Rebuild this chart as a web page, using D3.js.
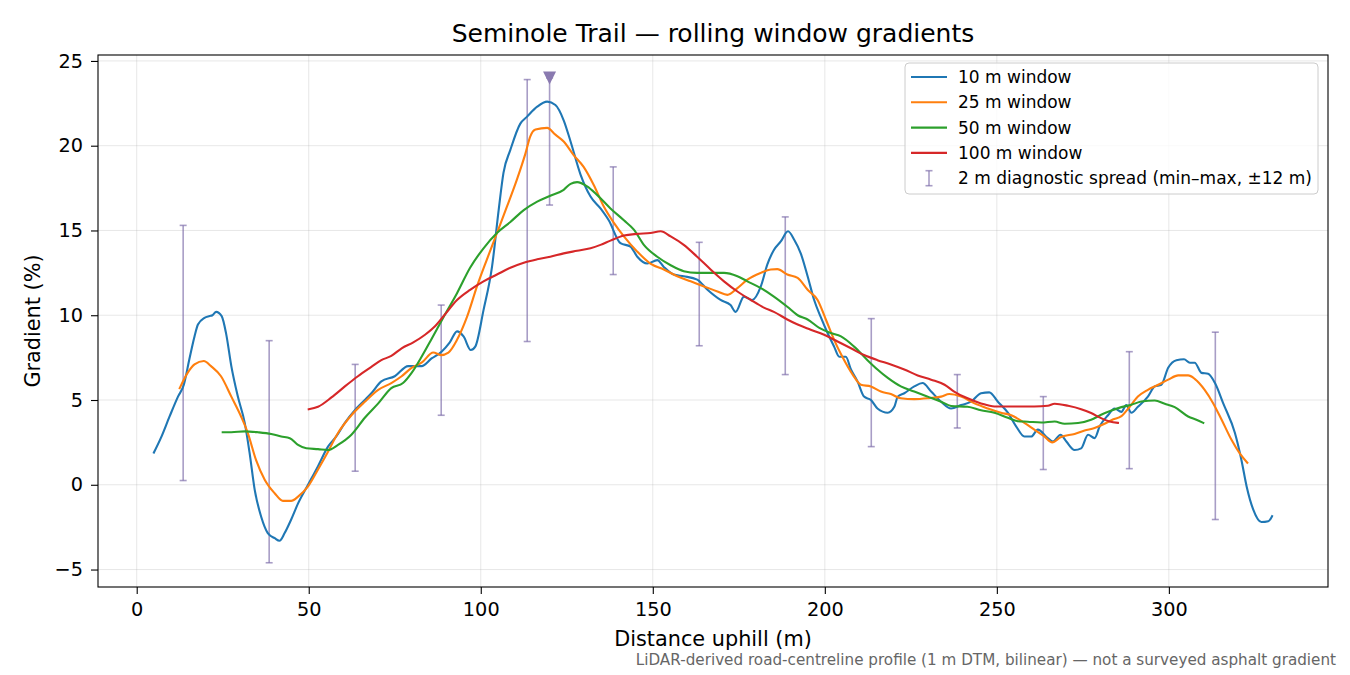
<!DOCTYPE html>
<html>
  <head>
    <meta charset="utf-8">
    <title>Seminole Trail gradients</title>
    <style>
      body { margin: 0; background: #fff; }
      svg text { font-family: "DejaVu Sans", sans-serif; fill: #000; }
    </style>
  </head>
  <body>
    <script src="https://d3js.org/d3.v7.min.js"></script>
    <svg id="chart" width="1350" height="675"></svg>
    <script>
      // rolling-window gradient series, [distance m, gradient %]
      const win10 = [[5,1.9],[7,2.75],[9.5,4.0],[12,5.2],[13.7,5.9],[15.3,7.4],[16.8,8.75],[17.8,9.45],[19.7,9.85],[21.2,9.95],[22,10.0],[23.1,10.2],[24.7,9.95],[26,8.9],[27.5,7.0],[29.4,5.2],[31.4,3.65],[32.8,1.9],[34.3,-0.3],[36.2,-1.9],[38.1,-2.85],[40.1,-3.15],[41.5,-3.3],[43,-2.85],[44.9,-2.05],[46.9,-1.1],[49.8,0],[52.7,1.1],[55.6,2.25],[58,2.85],[60.5,3.65],[63.4,4.4],[66.3,5.0],[68.2,5.4],[71.1,6.1],[75,6.4],[78.9,7.0],[82.8,7.0],[85.7,7.45],[88.6,7.85],[91,8.4],[93.1,9.05],[95,8.75],[97.1,7.95],[98.4,8.15],[100.8,10.3],[103.3,12.9],[105.2,16.2],[106.6,18.4],[108.6,19.75],[111.5,21.3],[113.4,21.7],[116.4,22.3],[119.3,22.6],[121.7,22.4],[124.1,21.5],[126.1,20.25],[129,18.3],[131.9,17.0],[134.8,16.3],[137.2,15.6],[140.6,14.25],[143.5,14.05],[145.5,13.45],[148.4,13.05],[151.3,13.25],[153.2,12.85],[156.1,12.4],[159,12.3],[162.9,12.1],[165.9,11.5],[169.7,10.9],[172.6,10.6],[174.1,10.2],[176.5,11.1],[178.9,10.9],[181.4,11.7],[183.3,13.0],[185.2,13.85],[187.2,14.35],[189.3,14.95],[191.1,14.45],[193,13.65],[195,12.3],[196.9,10.9],[198.8,9.9],[200.8,8.95],[202.7,8.15],[204.2,7.55],[206.1,7.55],[207.6,6.8],[209.5,6.1],[211.4,5.2],[213.4,5.0],[215.3,4.5],[218.3,4.25],[220.2,4.6],[221.2,5.2],[223.1,5.4],[226,5.8],[228.4,6.0],[230.9,5.5],[233.8,4.9],[236.7,4.5],[239.6,4.7],[242.5,4.9],[245.4,5.4],[247.8,5.45],[250.3,4.9],[253.2,4.25],[255.6,3.45],[258,2.85],[260,2.85],[261.9,3.25],[264.8,2.75],[266.3,2.55],[268.5,2.95],[270.2,2.55],[272.6,2.05],[274.5,2.15],[276.5,2.95],[278.4,2.75],[279.9,3.45],[282.3,4.1],[284.2,4.5],[286.2,4.3],[287.6,4.7],[289.1,4.25],[291,4.6],[293.9,5.2],[295.9,5.8],[297.8,5.9],[299.8,6.9],[302.2,7.35],[304.4,7.4],[306.1,7.2],[307.5,7.2],[309.5,6.6],[311.4,6.55],[313.4,6.0],[315.8,4.8],[319.2,3.05],[321.1,1.45],[322.6,-0.1],[324.5,-1.45],[326.9,-2.2],[328.9,-2.15],[330,-1.85]]

      const win25 = [[12.5,5.7],[14.8,6.6],[16.8,7.1],[19.5,7.3],[21.6,7.0],[24.5,6.4],[27.5,5.2],[30.4,4.0],[32.3,3.05],[34.7,1.45],[37.2,0.3],[40.1,-0.5],[42.5,-0.95],[44.9,-0.95],[46.9,-0.7],[49.8,-0.1],[52.7,0.9],[55.6,1.95],[58.5,3.05],[62.4,4.1],[66.3,4.9],[70.2,5.6],[74,6.0],[77,6.4],[79.9,6.9],[82.8,7.2],[86.2,7.8],[88.4,7.65],[90.6,7.8],[93.1,8.55],[96,9.9],[98.9,11.7],[101.8,13.3],[104.7,14.85],[107.6,16.4],[110.5,18.0],[113,19.55],[114.4,20.55],[115.9,20.95],[119.3,21.05],[121.7,20.65],[124.1,20.25],[127,19.45],[129.9,18.75],[132.8,17.7],[135.8,16.4],[138.7,15.45],[141.6,14.65],[145.5,13.75],[149.3,13.05],[153.2,12.7],[157.1,12.3],[161,12.0],[164.9,11.7],[168.8,11.4],[171.7,11.2],[174.6,11.6],[177.5,12.1],[181.4,12.5],[184.3,12.7],[186.2,12.72],[189.1,12.4],[192.1,12.2],[195,11.5],[197.9,10.9],[200.3,9.75],[202.7,8.55],[205.1,7.55],[208.1,6.5],[210.5,5.9],[213.4,5.8],[216.3,5.5],[219.2,5.35],[222.1,5.1],[226,5.05],[229.9,5.1],[233.8,5.2],[236.2,5.35],[239.6,5.2],[243.5,4.8],[247.4,4.5],[251.2,4.25],[254.2,4.1],[258,3.65],[260.9,3.25],[263.8,2.85],[266.1,2.5],[268.5,2.8],[272.6,3.0],[275.5,3.2],[278.4,3.35],[281.3,3.6],[283.7,3.85],[286.2,4.05],[288.6,4.6],[291,5.2],[293.9,5.6],[296.9,5.9],[299.8,6.2],[302.7,6.45],[305.6,6.45],[307.5,6.25],[310.4,5.6],[312.9,4.8],[315.3,3.85],[318.2,2.65],[320.6,1.85],[322.8,1.3]]

      const win50 = [[25,3.1],[27.5,3.1],[31.4,3.15],[35.2,3.1],[39.1,3.0],[42,2.85],[44.5,2.75],[46.9,2.35],[49.3,2.15],[52.7,2.1],[55.6,2.05],[58.5,2.35],[62.4,2.95],[66.3,3.95],[70.2,4.8],[74,5.7],[77.4,6.0],[79.9,6.6],[82.8,7.55],[85.7,8.6],[89.2,9.9],[93.1,11.3],[96.9,12.8],[100.8,13.95],[104.7,14.85],[108.6,15.5],[112.5,16.2],[116.4,16.7],[120.2,17.05],[124.1,17.4],[126.1,17.75],[128,17.85],[130.9,17.6],[133.8,17.1],[137.7,16.3],[141.6,15.6],[144.5,15.05],[147.4,14.15],[151.3,13.45],[155.2,12.95],[159,12.6],[162.9,12.5],[166.8,12.5],[170.7,12.5],[174.6,12.3],[177.5,12.0],[181.4,11.6],[185.2,11.1],[189.1,10.5],[192.1,10.0],[195,9.75],[198.4,9.25],[201.7,8.95],[204.7,8.75],[208.5,8.15],[212.4,7.35],[215.3,6.8],[218.3,6.3],[222.1,5.8],[226,5.5],[229.9,5.2],[233.8,4.9],[236.7,4.65],[241.5,4.6],[245.4,4.4],[249.3,4.25],[253.2,3.95],[256.1,3.75],[259,3.72],[262.9,3.67],[266.8,3.73],[269.7,3.6],[273.6,3.64],[277.4,3.83],[280.3,4.13],[283.3,4.38],[286.2,4.58],[289.1,4.72],[292,4.91],[295.9,4.97],[298.8,4.78],[301.7,4.58],[305.6,4.03],[308,3.83],[310,3.65]]

      const win100 = [[50,4.45],[52.7,4.6],[56.6,5.15],[60.5,5.8],[64.3,6.4],[68.2,6.95],[71.1,7.35],[74,7.6],[77,8.05],[80.4,8.4],[83.8,8.85],[86.7,9.35],[89.4,10.0],[93.1,10.9],[96.9,11.5],[100.8,12.0],[104.7,12.4],[108.6,12.8],[112.5,13.1],[116.4,13.3],[120.2,13.45],[124.1,13.65],[128,13.8],[131.9,13.95],[134.8,14.15],[137.7,14.4],[141.6,14.7],[145.5,14.8],[149.3,14.85],[152.3,14.95],[155.2,14.65],[159,14.15],[162.9,13.45],[166.8,12.7],[170.7,12.0],[174.6,11.4],[178.5,10.9],[182.3,10.45],[185.2,10.2],[189.1,9.75],[192.1,9.45],[195.9,9.15],[199.8,8.85],[203.7,8.45],[207.6,8.05],[211.4,7.65],[215.3,7.35],[219.2,7.1],[223.1,6.8],[227,6.45],[230.9,6.2],[234.8,5.9],[237.6,5.5],[241.5,5.1],[245.4,4.8],[249.3,4.62],[255.1,4.62],[260.9,4.62],[264.8,4.66],[266.8,4.78],[270.7,4.66],[274.5,4.46],[277.4,4.23],[280.3,3.93],[282.8,3.73],[285.2,3.65]]

      // 2 m diagnostic spread (min-max within +-12 m)
      const spreadX  = [13.5, 38.5, 63.5, 88.5, 113.5, 120, 138.5, 163.5, 188.5, 213.5, 238.5, 263.5, 288.5, 313.5]
      const spreadLo = [0.25, -4.6, 0.8, 4.1, 8.45, 16.5, 12.4, 8.2, 6.5, 2.25, 3.35, 0.9, 0.95, -2.05]
      const spreadHi = [15.3, 8.5, 7.1, 10.6, 23.9, 24.0, 18.75, 14.3, 15.8, 9.8, 6.5, 5.2, 7.85, 9.0]
      const peakMark = [120, 24.0]

      const seriesNames = ['10 m window', '25 m window', '50 m window', '100 m window']
      const seriesColors = ['#1f77b4', '#ff7f0e', '#2ca02c', '#d62728']
      const xTicks = [0, 50, 100, 150, 200, 250, 300]
      const yTicks = [-5, 0, 5, 10, 15, 20, 25]

      const svg = d3.select('#chart')
      const L = 98, R = 1328, T = 55, B = 587

      const x = d3.scaleLinear().domain([-11.25, 346.25]).range([L, R])
      const y = d3.scaleLinear().domain([-6.03, 25.35]).range([B, T])

      // grid
      svg.append('g').selectAll('line').data(xTicks).join('line')
        .attr('x1', d => x(d)).attr('x2', d => x(d)).attr('y1', T).attr('y2', B)
        .attr('stroke', '#b0b0b0').attr('stroke-opacity', 0.3).attr('stroke-width', 1)
      svg.append('g').selectAll('line').data(yTicks).join('line')
        .attr('x1', L).attr('x2', R).attr('y1', d => y(d)).attr('y2', d => y(d))
        .attr('stroke', '#b0b0b0').attr('stroke-opacity', 0.3).attr('stroke-width', 1)

      // axes
      const xAxis = svg.append('g').attr('transform', `translate(0,${B})`)
        .call(d3.axisBottom(x).tickValues(xTicks).tickSize(7).tickPadding(8))
      const yAxis = svg.append('g').attr('transform', `translate(${L},0)`)
        .call(d3.axisLeft(y).tickValues(yTicks).tickSize(7).tickPadding(8).tickFormat(d => d < 0 ? '\u2212' + Math.abs(d) : d))
      for (const a of [xAxis, yAxis]) {
        a.select('.domain').remove()
        a.selectAll('line').attr('stroke', '#000').attr('stroke-width', 1.1)
        a.selectAll('text').style('font-size', '19.3px').attr('fill', '#000')
      }

      // error bars
      const eb = svg.append('g')
      const ebColor = '#7a68a8'
      spreadX.forEach((sx, i) => {
        const g = eb.append('g').attr('stroke', ebColor).attr('stroke-opacity', 0.65).attr('stroke-width', 1.6)
        g.append('line').attr('x1', x(sx)).attr('x2', x(sx)).attr('y1', y(spreadLo[i])).attr('y2', y(spreadHi[i]))
        g.append('line').attr('x1', x(sx) - 3.5).attr('x2', x(sx) + 3.5).attr('y1', y(spreadLo[i])).attr('y2', y(spreadLo[i]))
        g.append('line').attr('x1', x(sx) - 3.5).attr('x2', x(sx) + 3.5).attr('y1', y(spreadHi[i])).attr('y2', y(spreadHi[i]))
      })

      // lines
      const line = d3.line().x(d => x(d[0])).y(d => y(d[1])).curve(d3.curveMonotoneX)
      const allSeries = [win10, win25, win50, win100]
      allSeries.forEach((s, i) => {
        svg.append('path').datum(s).attr('d', line)
          .attr('fill', 'none').attr('stroke', seriesColors[i]).attr('stroke-width', 2.1)
          .attr('stroke-linejoin', 'round').attr('stroke-linecap', 'square')
      })

      // peak marker
      const px = x(peakMark[0]), py = y(peakMark[1])
      svg.append('path')
        .attr('d', `M${px - 6.5},${py - 6.5}L${px + 6.5},${py - 6.5}L${px},${py + 6.5}Z`)
        .attr('fill', '#8a7ab0')

      // frame
      svg.append('rect').attr('x', L).attr('y', T).attr('width', R - L).attr('height', B - T)
        .attr('fill', 'none').attr('stroke', '#000').attr('stroke-width', 1.1)

      // legend
      const lg = svg.append('g').attr('transform', 'translate(905,63)')
      lg.append('rect').attr('width', 413).attr('height', 131).attr('rx', 4)
        .attr('fill', '#fff').attr('fill-opacity', 0.8).attr('stroke', '#cccccc').attr('stroke-width', 1)
      seriesNames.forEach((n, i) => {
        const yy = 14 + i * 25.3
        lg.append('line').attr('x1', 6).attr('x2', 42).attr('y1', yy).attr('y2', yy)
          .attr('stroke', seriesColors[i]).attr('stroke-width', 2.1)
        lg.append('text').attr('x', 53).attr('y', yy).attr('dy', '0.36em')
          .style('font-size', '17px').text(n)
      })
      const ey = 14 + 4 * 25.3
      const eg = lg.append('g').attr('stroke', ebColor).attr('stroke-opacity', 0.65).attr('stroke-width', 1.6)
      eg.append('line').attr('x1', 24).attr('x2', 24).attr('y1', ey - 7.5).attr('y2', ey + 7.5)
      eg.append('line').attr('x1', 20.5).attr('x2', 27.5).attr('y1', ey - 7.5).attr('y2', ey - 7.5)
      eg.append('line').attr('x1', 20.5).attr('x2', 27.5).attr('y1', ey + 7.5).attr('y2', ey + 7.5)
      lg.append('text').attr('x', 53).attr('y', ey).attr('dy', '0.36em')
        .style('font-size', '17px').text('2 m diagnostic spread (min\u2013max, \u00b112 m)')

      // titles
      svg.append('text').attr('x', (L + R) / 2).attr('y', 42).attr('text-anchor', 'middle')
        .style('font-size', '25px').text('Seminole Trail \u2014 rolling window gradients')
      svg.append('text').attr('x', (L + R) / 2).attr('y', 646).attr('text-anchor', 'middle')
        .style('font-size', '20.8px').text('Distance uphill (m)')
      svg.append('text').attr('transform', `translate(40,${(T + B) / 2}) rotate(-90)`)
        .attr('text-anchor', 'middle').style('font-size', '20.8px').text('Gradient (%)')
      svg.append('text').attr('x', 1336).attr('y', 665).attr('text-anchor', 'end')
        .style('font-size', '15.2px').style('fill', '#666').text('LiDAR-derived road-centreline profile (1 m DTM, bilinear) \u2014 not a surveyed asphalt gradient')
    </script>
  </body>
</html>
